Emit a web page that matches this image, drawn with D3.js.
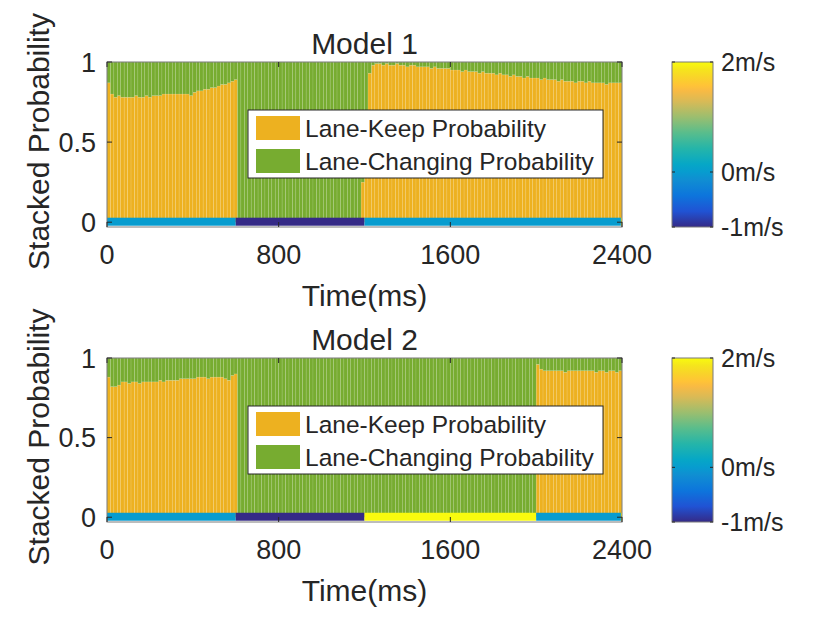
<!DOCTYPE html>
<html><head><meta charset="utf-8">
<script src="https://cdn.jsdelivr.net/npm/d3@7"></script>
<style>body{margin:0;background:#fff}svg{display:block}text{font-family:"Liberation Sans",Arial,Helvetica,sans-serif;fill:#262626}</style>
</head><body><svg id="chart" width="830" height="623"></svg>
<script>
// ---------------- DATA ----------------
const stepMs = 16;
const timeDomain = [0, 2400];
const xTicks = [0, 800, 1600, 2400];
const yTicks = [0, 0.5, 1];
const yTickLabels = ["0", "0.5", "1"];
const seriesNames = ["Lane-Keep Probability", "Lane-Changing Probability"];
const titles = ["Model 1", "Model 2"];
const cbTicks = [-1, 0, 2];
const cbTickLabels = ["-1m/s", "0m/s", "2m/s"];

const model1Keep = [
 0.87,0.80,0.78,0.79,0.78,0.78,0.78,0.78,0.79,0.78,
 0.78,0.79,0.78,0.79,0.79,0.79,0.80,0.80,0.80,0.80,
 0.80,0.80,0.80,0.80,0.79,0.81,0.82,0.82,0.83,0.83,
 0.84,0.84,0.85,0.86,0.86,0.87,0.88,0.89,
 0,0,0,0,0,0,0,0,0,0,
 0,0,0,0,0,0,0,0,0,0,
 0,0,0,0,0,0,0,0,0,0,
 0,0,0,0,0,0,
 0.25,0.60,0.93,0.98,
 0.99,0.99,0.98,0.99,0.98,0.98,0.99,0.98,0.98,0.97,0.98,0.98,0.97,0.97,
 0.97,0.97,0.96,0.97,0.96,0.96,0.96,0.96,0.95,
 0.95,0.95,0.94,0.95,0.94,0.94,0.94,0.93,0.94,0.93,0.93,0.93,0.92,0.93,
 0.92,0.92,0.91,0.92,0.91,0.91,0.90,0.91,0.90,
 0.90,0.90,0.89,0.90,0.89,0.89,0.89,0.88,0.89,
 0.88,0.88,0.88,0.87,0.88,0.88,0.87,0.88,0.87,
 0.87,0.87,0.87,0.86,0.87,0.87,0.87,0.87
];
const model1Change = [
 0.13,0.20,0.22,0.21,0.22,0.22,0.22,0.22,0.21,0.22,
 0.22,0.21,0.22,0.21,0.21,0.21,0.20,0.20,0.20,0.20,
 0.20,0.20,0.20,0.20,0.21,0.19,0.18,0.18,0.17,0.17,
 0.16,0.16,0.15,0.14,0.14,0.13,0.12,0.11,
 1,1,1,1,1,1,1,1,1,1,
 1,1,1,1,1,1,1,1,1,1,
 1,1,1,1,1,1,1,1,1,1,
 1,1,1,1,1,1,
 0.75,0.40,0.07,0.02,
 0.01,0.01,0.02,0.01,0.02,0.02,0.01,0.02,0.02,0.03,0.02,0.02,0.03,0.03,
 0.03,0.03,0.04,0.03,0.04,0.04,0.04,0.04,0.05,
 0.05,0.05,0.06,0.05,0.06,0.06,0.06,0.07,0.06,0.07,0.07,0.07,0.08,0.07,
 0.08,0.08,0.09,0.08,0.09,0.09,0.10,0.09,0.10,
 0.10,0.10,0.11,0.10,0.11,0.11,0.11,0.12,0.11,
 0.12,0.12,0.12,0.13,0.12,0.12,0.13,0.12,0.13,
 0.13,0.13,0.13,0.14,0.13,0.13,0.13,0.13
];
const model2Keep = [
 0.88,0.82,0.82,0.83,0.85,0.85,0.84,0.85,0.85,0.84,
 0.85,0.85,0.85,0.85,0.85,0.86,0.85,0.86,0.86,0.86,
 0.86,0.87,0.87,0.87,0.87,0.87,0.88,0.88,0.88,0.87,
 0.88,0.88,0.88,0.88,0.87,0.86,0.89,0.90,
 0,0,0,0,0,0,0,0,0,0,
 0,0,0,0,0,0,0,0,0,0,
 0,0,0,0,0,0,0,0,0,0,
 0,0,0,0,0,0,0,0,0,0,
 0,0,0,0,0,0,0,0,0,0,
 0,0,0,0,0,0,0,0,0,0,
 0,0,0,0,0,0,0,0,0,0,
 0,0,0,0,0,0,0,0,0,0,
 0,0,0,0,0,0,0,
 0.96,0.93,0.92,0.92,0.92,0.92,0.92,0.92,0.91,0.92,
 0.92,0.92,0.92,0.92,0.92,0.92,0.92,0.91,0.92,0.92,
 0.91,0.92,0.92,0.91,0.92
];
const model2Change = [
 0.12,0.18,0.18,0.17,0.15,0.15,0.16,0.15,0.15,0.16,
 0.15,0.15,0.15,0.15,0.15,0.14,0.15,0.14,0.14,0.14,
 0.14,0.13,0.13,0.13,0.13,0.13,0.12,0.12,0.12,0.13,
 0.12,0.12,0.12,0.12,0.13,0.14,0.11,0.10,
 1,1,1,1,1,1,1,1,1,1,
 1,1,1,1,1,1,1,1,1,1,
 1,1,1,1,1,1,1,1,1,1,
 1,1,1,1,1,1,1,1,1,1,
 1,1,1,1,1,1,1,1,1,1,
 1,1,1,1,1,1,1,1,1,1,
 1,1,1,1,1,1,1,1,1,1,
 1,1,1,1,1,1,1,1,1,1,
 1,1,1,1,1,1,1,
 0.04,0.07,0.08,0.08,0.08,0.08,0.08,0.08,0.09,0.08,
 0.08,0.08,0.08,0.08,0.08,0.08,0.08,0.09,0.08,0.08,
 0.09,0.08,0.08,0.09,0.08
];
// speed segments (ms) and speed (m/s)
const model1SpeedStart = [0, 600, 1200, 2395];
const model1SpeedEnd   = [600, 1200, 2395, 2400];
const model1Speed      = [0, -1, 0, 2];
const model2SpeedStart = [0, 600, 1200, 2000, 2395];
const model2SpeedEnd   = [600, 1200, 2000, 2395, 2400];
const model2Speed      = [0, -1, 2, 0, 2];

// ---------------- STYLE ----------------
const keepColor = "#edb120", changeColor = "#77ac30";
const parulaStops = [
 [0,"#352a87"],[6,"#2053d4"],[12,"#0d75dc"],[18,"#108ed2"],[21,"#079ccf"],[24,"#06a7c6"],
 [30,"#25b5a9"],[36,"#59bd8c"],[42,"#9bbe6f"],[48,"#d9ba56"],[52,"#f8ba44"],[54,"#ffc337"],
 [57,"#f9d32a"],[60,"#f5e41d"],[63,"#f9fb0e"]];
const parula = d3.scaleLinear().domain(parulaStops.map(d=>d[0]/63)).range(parulaStops.map(d=>d[1])).clamp(true);
const speedNorm = d3.scaleLinear().domain([-1, 2]).range([0, 1]);

const svg = d3.select("#chart");
const defs = svg.append("defs");
const grad = defs.append("linearGradient").attr("id","cbgrad").attr("x1",0).attr("y1",1).attr("x2",0).attr("y2",0);
parulaStops.forEach(s=>grad.append("stop").attr("offset", (s[0]/63*100)+"%").attr("stop-color", s[1]));

const axisColor = "#262626";
const tickFont = 27, labelFont = 30, legendFont = 24.5, cbFont = 25;

const panels = [
 {top:62, bottom:227, keep:model1Keep, change:model1Change, sStart:model1SpeedStart, sEnd:model1SpeedEnd, speed:model1Speed, title:titles[0]},
 {top:358, bottom:522, keep:model2Keep, change:model2Change, sStart:model2SpeedStart, sEnd:model2SpeedEnd, speed:model2Speed, title:titles[1]}
];
const left = 107, right = 622;
const x = d3.scaleLinear().domain(timeDomain).range([left, right]);

panels.forEach((p, pi) => {
  const y = d3.scaleLinear().domain([-0.03, 1]).range([p.bottom, p.top]);
  const g = svg.append("g");
  const clipId = "clip"+pi;
  defs.append("clipPath").attr("id", clipId).append("rect")
    .attr("x", left).attr("y", p.top).attr("width", right-left).attr("height", p.bottom-p.top);

  const rows = p.keep.map((k, i) => ({t: i*stepMs, keep: k, change: p.change[i]}));
  const stack = d3.stack().keys(["keep","change"])(rows);
  const colors = [keepColor, changeColor];
  const bw = x(stepMs) - x(0);
  const plot = g.append("g").attr("clip-path", `url(#${clipId})`);
  stack.forEach((layer, li) => {
    plot.append("g").selectAll("rect").data(layer).join("rect")
      .attr("x", d => x(d.data.t))
      .attr("width", bw)
      .attr("y", d => y(d[1]))
      .attr("height", d => Math.max(0, y(d[0]) - y(d[1])))
      .attr("fill", colors[li])
      .attr("stroke", "rgba(255,255,255,0.18)")
      .attr("stroke-width", 0.6);
  });
  // speed band
  plot.append("g").selectAll("rect").data(p.speed.map((v,i)=>({s:p.sStart[i], e:p.sEnd[i], v})))
    .join("rect")
    .attr("x", d => x(d.s)).attr("width", d => x(d.e) - x(d.s))
    .attr("y", y(0.028)).attr("height", y(-0.022) - y(0.028))
    .attr("fill", d => parula(speedNorm(d.v)));

  // axes box
  g.append("rect").attr("x", left).attr("y", p.top).attr("width", right-left).attr("height", p.bottom-p.top)
    .attr("fill","none").attr("stroke", "#7a7a7a").attr("stroke-width", 1);
  // ticks
  const tl = 5;
  xTicks.forEach(t => {
    g.append("line").attr("x1", x(t)).attr("x2", x(t)).attr("y1", p.bottom).attr("y2", p.bottom - tl).attr("stroke", axisColor);
    g.append("line").attr("x1", x(t)).attr("x2", x(t)).attr("y1", p.top).attr("y2", p.top + tl).attr("stroke", axisColor);
    g.append("text").attr("x", x(t)).attr("y", p.bottom + 37).attr("text-anchor","middle")
      .attr("font-size", tickFont).text(t);
  });
  yTicks.forEach((t, i) => {
    g.append("line").attr("x1", left).attr("x2", left + tl).attr("y1", y(t)).attr("y2", y(t)).attr("stroke", axisColor);
    g.append("line").attr("x1", right).attr("x2", right - tl).attr("y1", y(t)).attr("y2", y(t)).attr("stroke", axisColor);
    g.append("text").attr("x", left - 11).attr("y", y(t) + 9.5).attr("text-anchor","end")
      .attr("font-size", tickFont).text(yTickLabels[i]);
  });
  // labels
  g.append("text").attr("x", (left+right)/2).attr("y", p.bottom + 79).attr("text-anchor","middle")
    .attr("font-size", labelFont).text("Time(ms)");
  g.append("text").attr("transform", `translate(${49},${(p.top+p.bottom)/2 - 3}) rotate(-90)`)
    .attr("text-anchor","middle").attr("font-size", labelFont).text("Stacked Probability");
  g.append("text").attr("x", (left+right)/2).attr("y", p.top - 8).attr("text-anchor","middle")
    .attr("font-size", labelFont).text(p.title);

  // legend
  const lx = 248, ly = p.top + 48;
  g.append("rect").attr("x", lx).attr("y", ly).attr("width", 355).attr("height", 68)
    .attr("fill","#fff").attr("stroke","#262626").attr("stroke-width",1);
  seriesNames.forEach((n, i) => {
    g.append("rect").attr("x", lx + 8).attr("y", ly + 6 + i*33).attr("width", 44).attr("height", 24).attr("fill", colors[i]);
    g.append("text").attr("x", lx + 57).attr("y", ly + 27 + i*33).attr("font-size", legendFont).text(n);
  });

  // colorbar
  const cbx = 672, cbw = 41;
  const cy = d3.scaleLinear().domain([-1, 2]).range([p.bottom, p.top]);
  g.append("rect").attr("x", cbx).attr("y", p.top).attr("width", cbw).attr("height", p.bottom-p.top)
    .attr("fill","url(#cbgrad)").attr("stroke","#7a7a7a").attr("stroke-width",1);
  cbTicks.forEach((t, i) => {
    g.append("line").attr("x1", cbx).attr("x2", cbx+3).attr("y1", cy(t)).attr("y2", cy(t)).attr("stroke", axisColor);
    g.append("line").attr("x1", cbx+cbw).attr("x2", cbx+cbw-3).attr("y1", cy(t)).attr("y2", cy(t)).attr("stroke", axisColor);
    g.append("text").attr("x", cbx + cbw + 8).attr("y", cy(t) + 9).attr("font-size", cbFont).text(cbTickLabels[i]);
  });
});
</script></body></html>
